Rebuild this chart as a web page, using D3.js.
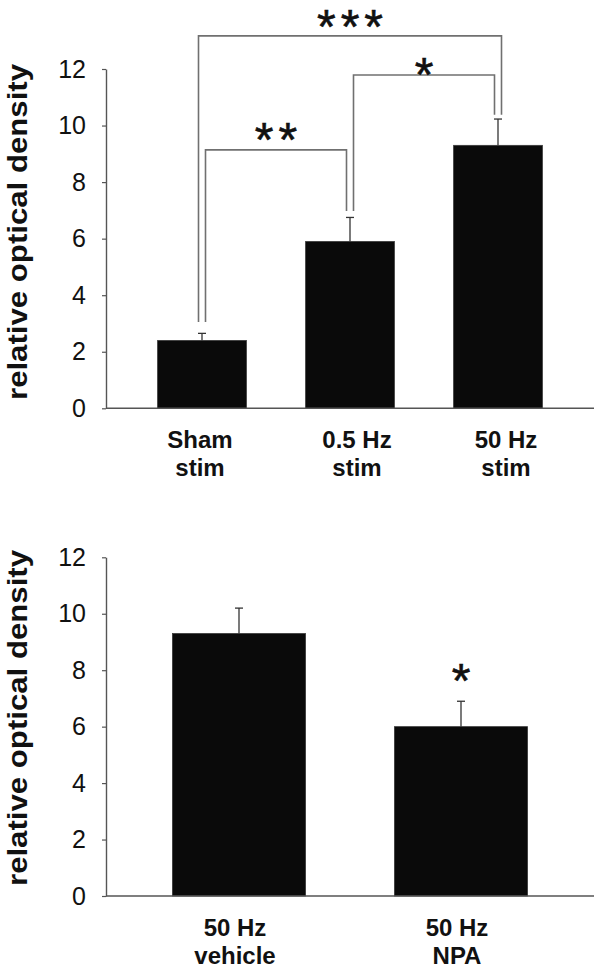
<!DOCTYPE html>
<html>
<head>
<meta charset="utf-8">
<script src="https://cdn.jsdelivr.net/npm/d3@7"></script>
<style>
  html, body { margin: 0; padding: 0; background: #fff; }
  svg { display: block; }
</style>
</head>
<body>
<svg id="chart" width="601" height="973"></svg>
<script>
// ---------- data ----------
const topCategories = [["Sham", "stim"], ["0.5 Hz", "stim"], ["50 Hz", "stim"]];
const topValues = [2.4, 5.9, 9.3];
const topErrors = [0.25, 0.85, 0.93];
// significance brackets: bar a, bar b, bracket level, label level, label
const topCompareA = [0, 1, 0];
const topCompareB = [1, 2, 2];
const topCompareLevel = [9.14, 11.79, 13.17];
const topCompareLabelLevel = [9.84, 12.14, 13.86];
const topCompareLabels = ["**", "*", "***"];
const topLegBottoms = [3.05, 6.98, 10.38];

const bottomCategories = [["50 Hz", "vehicle"], ["50 Hz", "NPA"]];
const bottomValues = [9.3, 6.0];
const bottomErrors = [0.9, 0.9];
const bottomStarIndex = [1];
const bottomStarLevel = [8.0];
const bottomStarLabels = ["*"];

const yTicks = [0, 2, 4, 6, 8, 10, 12];
const yTitle = "relative optical density";

// ---------- drawing ----------
const svg = d3.select("#chart");
const FONT = "'Liberation Sans', Arial, sans-serif";

function panel(opts) {
  const g = svg.append("g");
  const labels = opts.categories.map(c => c.join("|"));
  const x = d3.scaleBand().domain(labels).range([128, 572])
    .paddingInner(0.4).paddingOuter(0.2);
  const y = d3.scaleLinear().domain([0, 12]).range([opts.y0, opts.y12]);

  // bars
  g.selectAll("rect.bar").data(opts.values).join("rect")
    .attr("x", (d, i) => x(labels[i]))
    .attr("y", d => y(d))
    .attr("width", x.bandwidth())
    .attr("height", d => y(0) - y(d))
    .attr("fill", "#0a0a0a")
    .attr("stroke", "#3a3a3a")
    .attr("stroke-width", 0.8);

  // error bars (upper only)
  const eb = g.selectAll("g.err").data(opts.values).join("g");
  eb.append("line")
    .attr("x1", (d, i) => x(labels[i]) + x.bandwidth() / 2)
    .attr("x2", (d, i) => x(labels[i]) + x.bandwidth() / 2)
    .attr("y1", d => y(d))
    .attr("y2", (d, i) => y(d + opts.errors[i]))
    .attr("stroke", "#333").attr("stroke-width", 1.3);
  eb.append("line")
    .attr("x1", (d, i) => x(labels[i]) + x.bandwidth() / 2 - 4)
    .attr("x2", (d, i) => x(labels[i]) + x.bandwidth() / 2 + 4)
    .attr("y1", (d, i) => y(d + opts.errors[i]))
    .attr("y2", (d, i) => y(d + opts.errors[i]))
    .attr("stroke", "#333").attr("stroke-width", 1.3);

  // y axis
  const yAxis = d3.axisLeft(y).tickValues(yTicks).tickSize(4).tickSizeOuter(0).tickPadding(16);
  const ya = g.append("g").attr("transform", "translate(106,0)").call(yAxis);
  ya.select(".domain").attr("stroke", "#555").attr("stroke-width", 1.4);
  ya.selectAll(".tick line").attr("stroke", "#555").attr("stroke-width", 1.2);
  ya.selectAll(".tick text")
    .attr("font-family", FONT).attr("font-size", 25).attr("fill", "#111");

  // x axis line
  g.append("line")
    .attr("x1", 106).attr("x2", 594)
    .attr("y1", y(0)).attr("y2", y(0))
    .attr("stroke", "#555").attr("stroke-width", 1.6);

  // category labels
  const cl = g.selectAll("text.cat").data(opts.categories).join("text")
    .attr("text-anchor", "middle")
    .attr("font-family", FONT).attr("font-size", 24).attr("font-weight", "bold")
    .attr("fill", "#111");
  cl.each(function(d, i) {
    const t = d3.select(this);
    const cx = x(labels[i]) + x.bandwidth() / 2 + (opts.labelShift ? opts.labelShift[i] : 0);
    d.forEach((line, k) => {
      t.append("tspan").attr("x", cx).attr("y", y(0) + 40 + k * 28).text(line);
    });
  });

  // y title
  g.append("text")
    .attr("transform", `translate(27,${opts.titleCenter}) rotate(-90)`)
    .attr("text-anchor", "middle")
    .attr("font-family", FONT).attr("font-size", 27).attr("font-weight", "bold")
    .attr("fill", "#111")
    .attr("textLength", 336).attr("lengthAdjust", "spacingAndGlyphs")
    .text(yTitle);

  return { g, x, y, labels };
}

function star(g, cx, cy, label) {
  const fs = 48, ls = 5;
  g.append("text")
    .attr("x", cx + ls / 2).attr("y", cy + fs * 0.55)
    .attr("text-anchor", "middle")
    .attr("font-family", FONT).attr("font-size", fs)
    .attr("letter-spacing", ls)
    .attr("stroke", "#111").attr("stroke-width", 0.6)
    .attr("fill", "#111")
    .text(label);
}

// top panel
const P1 = panel({
  categories: topCategories, values: topValues, errors: topErrors,
  y0: 408.3, y12: 69, titleCenter: 232, labelShift: [-2, 7, 8]
});
const legOffset = 3.5;
topCompareLabels.forEach((lab, i) => {
  const a = topCompareA[i], b = topCompareB[i];
  const ca = P1.x(P1.labels[a]) + P1.x.bandwidth() / 2;
  const cb = P1.x(P1.labels[b]) + P1.x.bandwidth() / 2;
  // outer bracket legs sit outside the inner ones
  const xa = ca + (lab === "***" ? -legOffset : legOffset);
  const xb = cb + (lab === "***" ? legOffset : -legOffset);
  const yl = P1.y(topCompareLevel[i]);
  const path = d3.path();
  path.moveTo(xa, P1.y(topLegBottoms[a]));
  path.lineTo(xa, yl);
  path.lineTo(xb, yl);
  path.lineTo(xb, P1.y(topLegBottoms[b]));
  P1.g.append("path").attr("d", path.toString())
    .attr("fill", "none").attr("stroke", "#707070").attr("stroke-width", 1.6);
  star(P1.g, (xa + xb) / 2, P1.y(topCompareLabelLevel[i]), lab);
});

// bottom panel
const P2 = panel({
  categories: bottomCategories, values: bottomValues, errors: bottomErrors,
  y0: 896, y12: 557.3, titleCenter: 718, labelShift: [-4, -4]
});
bottomStarLabels.forEach((lab, i) => {
  const idx = bottomStarIndex[i];
  const cx = P2.x(P2.labels[idx]) + P2.x.bandwidth() / 2;
  star(P2.g, cx, P2.y(bottomStarLevel[i]), lab);
});
</script>
</body>
</html>
